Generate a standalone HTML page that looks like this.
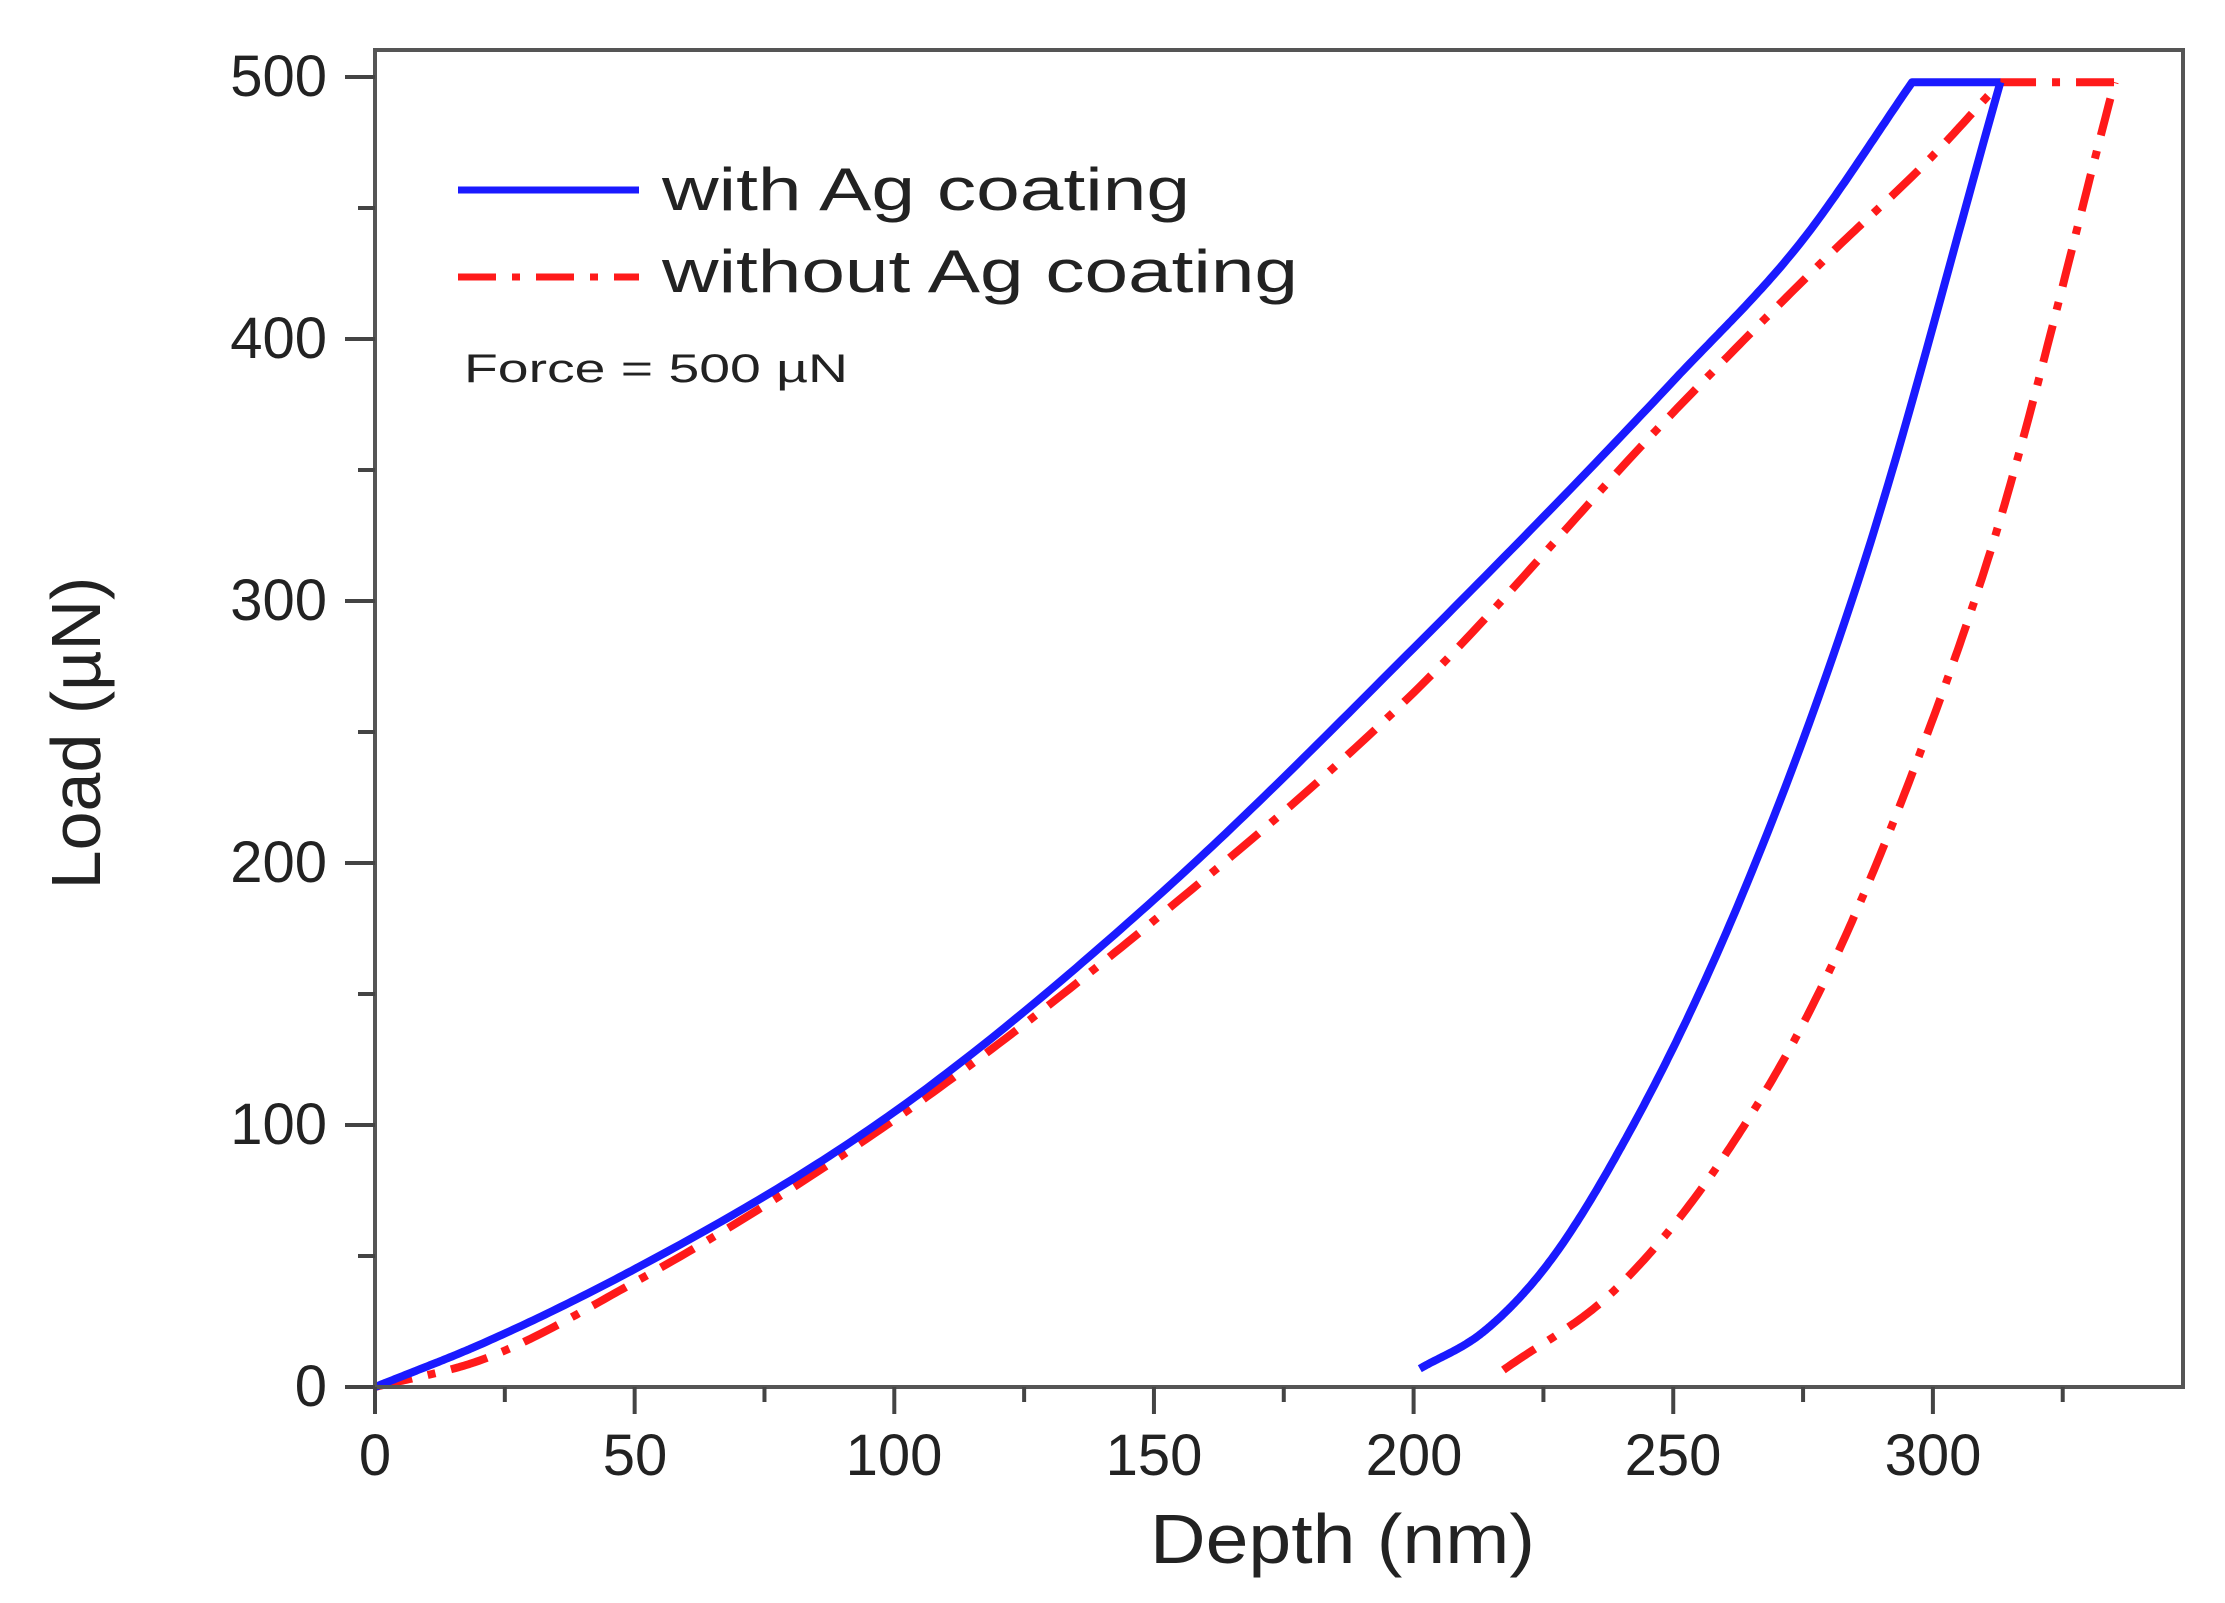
<!DOCTYPE html>
<html><head><meta charset="utf-8"><style>
html,body{margin:0;padding:0;background:#fff;}
svg{display:block;}
text{font-family:"Liberation Sans",Arial,sans-serif;fill:#222;}
</style></head><body>
<svg id="s" width="2225" height="1603" viewBox="0 0 2225 1603" xmlns="http://www.w3.org/2000/svg">
<rect x="0" y="0" width="2225" height="1603" fill="#fff"/>
<g id="curves"></g>
<rect x="375" y="50" width="1808" height="1337" fill="none" stroke="#555" stroke-width="4"/>
<g id="ticks" stroke="#444" stroke-width="4"></g>
<g font-size="58">
<text x="327" y="96" text-anchor="end">500</text>
<text x="327" y="358" text-anchor="end">400</text>
<text x="327" y="620" text-anchor="end">300</text>
<text x="327" y="882" text-anchor="end">200</text>
<text x="327" y="1144" text-anchor="end">100</text>
<text x="327" y="1406" text-anchor="end">0</text>
<text x="375" y="1475" text-anchor="middle">0</text>
<text x="635" y="1475" text-anchor="middle">50</text>
<text x="894" y="1475" text-anchor="middle">100</text>
<text x="1154" y="1475" text-anchor="middle">150</text>
<text x="1414" y="1475" text-anchor="middle">200</text>
<text x="1673" y="1475" text-anchor="middle">250</text>
<text x="1933" y="1475" text-anchor="middle">300</text>
</g>
<text x="1150" y="1563" font-size="70" textLength="385" lengthAdjust="spacingAndGlyphs">Depth (nm)</text>
<text transform="translate(100,733) rotate(-90)" font-size="70" text-anchor="middle">Load (µN)</text>
<line x1="458" y1="190" x2="639" y2="190" stroke="#1a1aff" stroke-width="7"/>
<line x1="458" y1="277" x2="639" y2="277" stroke="#ff1a1a" stroke-width="7" stroke-dasharray="38,16,8,16"/>
<text x="662" y="210" font-size="60" textLength="528" lengthAdjust="spacingAndGlyphs">with Ag coating</text>
<text x="662" y="292" font-size="60" textLength="636" lengthAdjust="spacingAndGlyphs">without Ag coating</text>
<text x="464" y="382" font-size="40" textLength="384" lengthAdjust="spacingAndGlyphs">Force = 500 µN</text>
</svg>
<script>
var X=function(d){return 375+5.193*d},Y=function(l){return 1387-2.62*l};
function mono(pts){
  var n=pts.length,h=pts.map(function(p){return p[0]}),l=pts.map(function(p){return p[1]});
  var d=[],m=[];for(var i=0;i<n-1;i++)d.push((l[i+1]-l[i])/(h[i+1]-h[i]));
  m[0]=d[0];m[n-1]=d[n-2];for(i=1;i<n-1;i++){var w1=h[i+1]-h[i],w0=h[i]-h[i-1];m[i]=(d[i-1]*w1+d[i]*w0)/(w0+w1);}
  var out=[];for(i=0;i<n-1;i++){var dx=h[i+1]-h[i];for(var k=0;k<40;k++){var t=k/40,t2=t*t,t3=t2*t;
    var y=(2*t3-3*t2+1)*l[i]+(t3-2*t2+t)*dx*m[i]+(-2*t3+3*t2)*l[i+1]+(t3-t2)*dx*m[i+1];
    out.push([h[i]+t*dx,y]);}}
  out.push([h[n-1],l[n-1]]);
  return "M"+out.map(function(a){return X(a[0]).toFixed(1)+","+Y(a[1]).toFixed(1)}).join(" L");}
var blue=[[0,0],[20,16],[50,45],[100,105],[150,186],[200,282],[250,384],[275,438],[296,498]];
var red=[[0,0],[20,10],[50,40],[100,102],[150,178],[200,265],[250,372],[280,432],[300,470],[313,498]];
var blueU=[[201.2,7],[213.4,21],[224.3,43],[242.3,100],[262.9,186],[286,310],[313,498]];
var redU=[[217.3,6.5],[239.1,37.7],[258.4,84],[278.9,154],[295.8,233],[311.4,321],[335,498]];
var g=document.getElementById("curves"),ns="http://www.w3.org/2000/svg";
function add(d,c,dash){var e=document.createElementNS(ns,"path");e.setAttribute("d",d);e.setAttribute("fill","none");e.setAttribute("stroke",c);e.setAttribute("stroke-width","8");e.setAttribute("stroke-linejoin","round");if(dash)e.setAttribute("stroke-dasharray",dash);g.appendChild(e);}
var RD="38,16,8,16";
add(mono(red)+" L"+X(335)+","+Y(498),"#ff1a1a",RD);
add(mono(redU),"#ff1a1a",RD);
add(mono(blue)+" L"+X(313)+","+Y(498),"#1a1aff");
add(mono(blueU),"#1a1aff");
var t=document.getElementById("ticks");
function ln(a,b,c,d){var e=document.createElementNS(ns,"line");e.setAttribute("x1",a);e.setAttribute("y1",b);e.setAttribute("x2",c);e.setAttribute("y2",d);t.appendChild(e);}
for(var d=0;d<=345;d+=25){var x=X(d);ln(x,1387,x,1387+(d%50==0?27:15));}
for(var l=0;l<=500;l+=50){var y=Y(l);ln(375,y,375-(l%100==0?30:17),y);}
</script>
</body></html>
